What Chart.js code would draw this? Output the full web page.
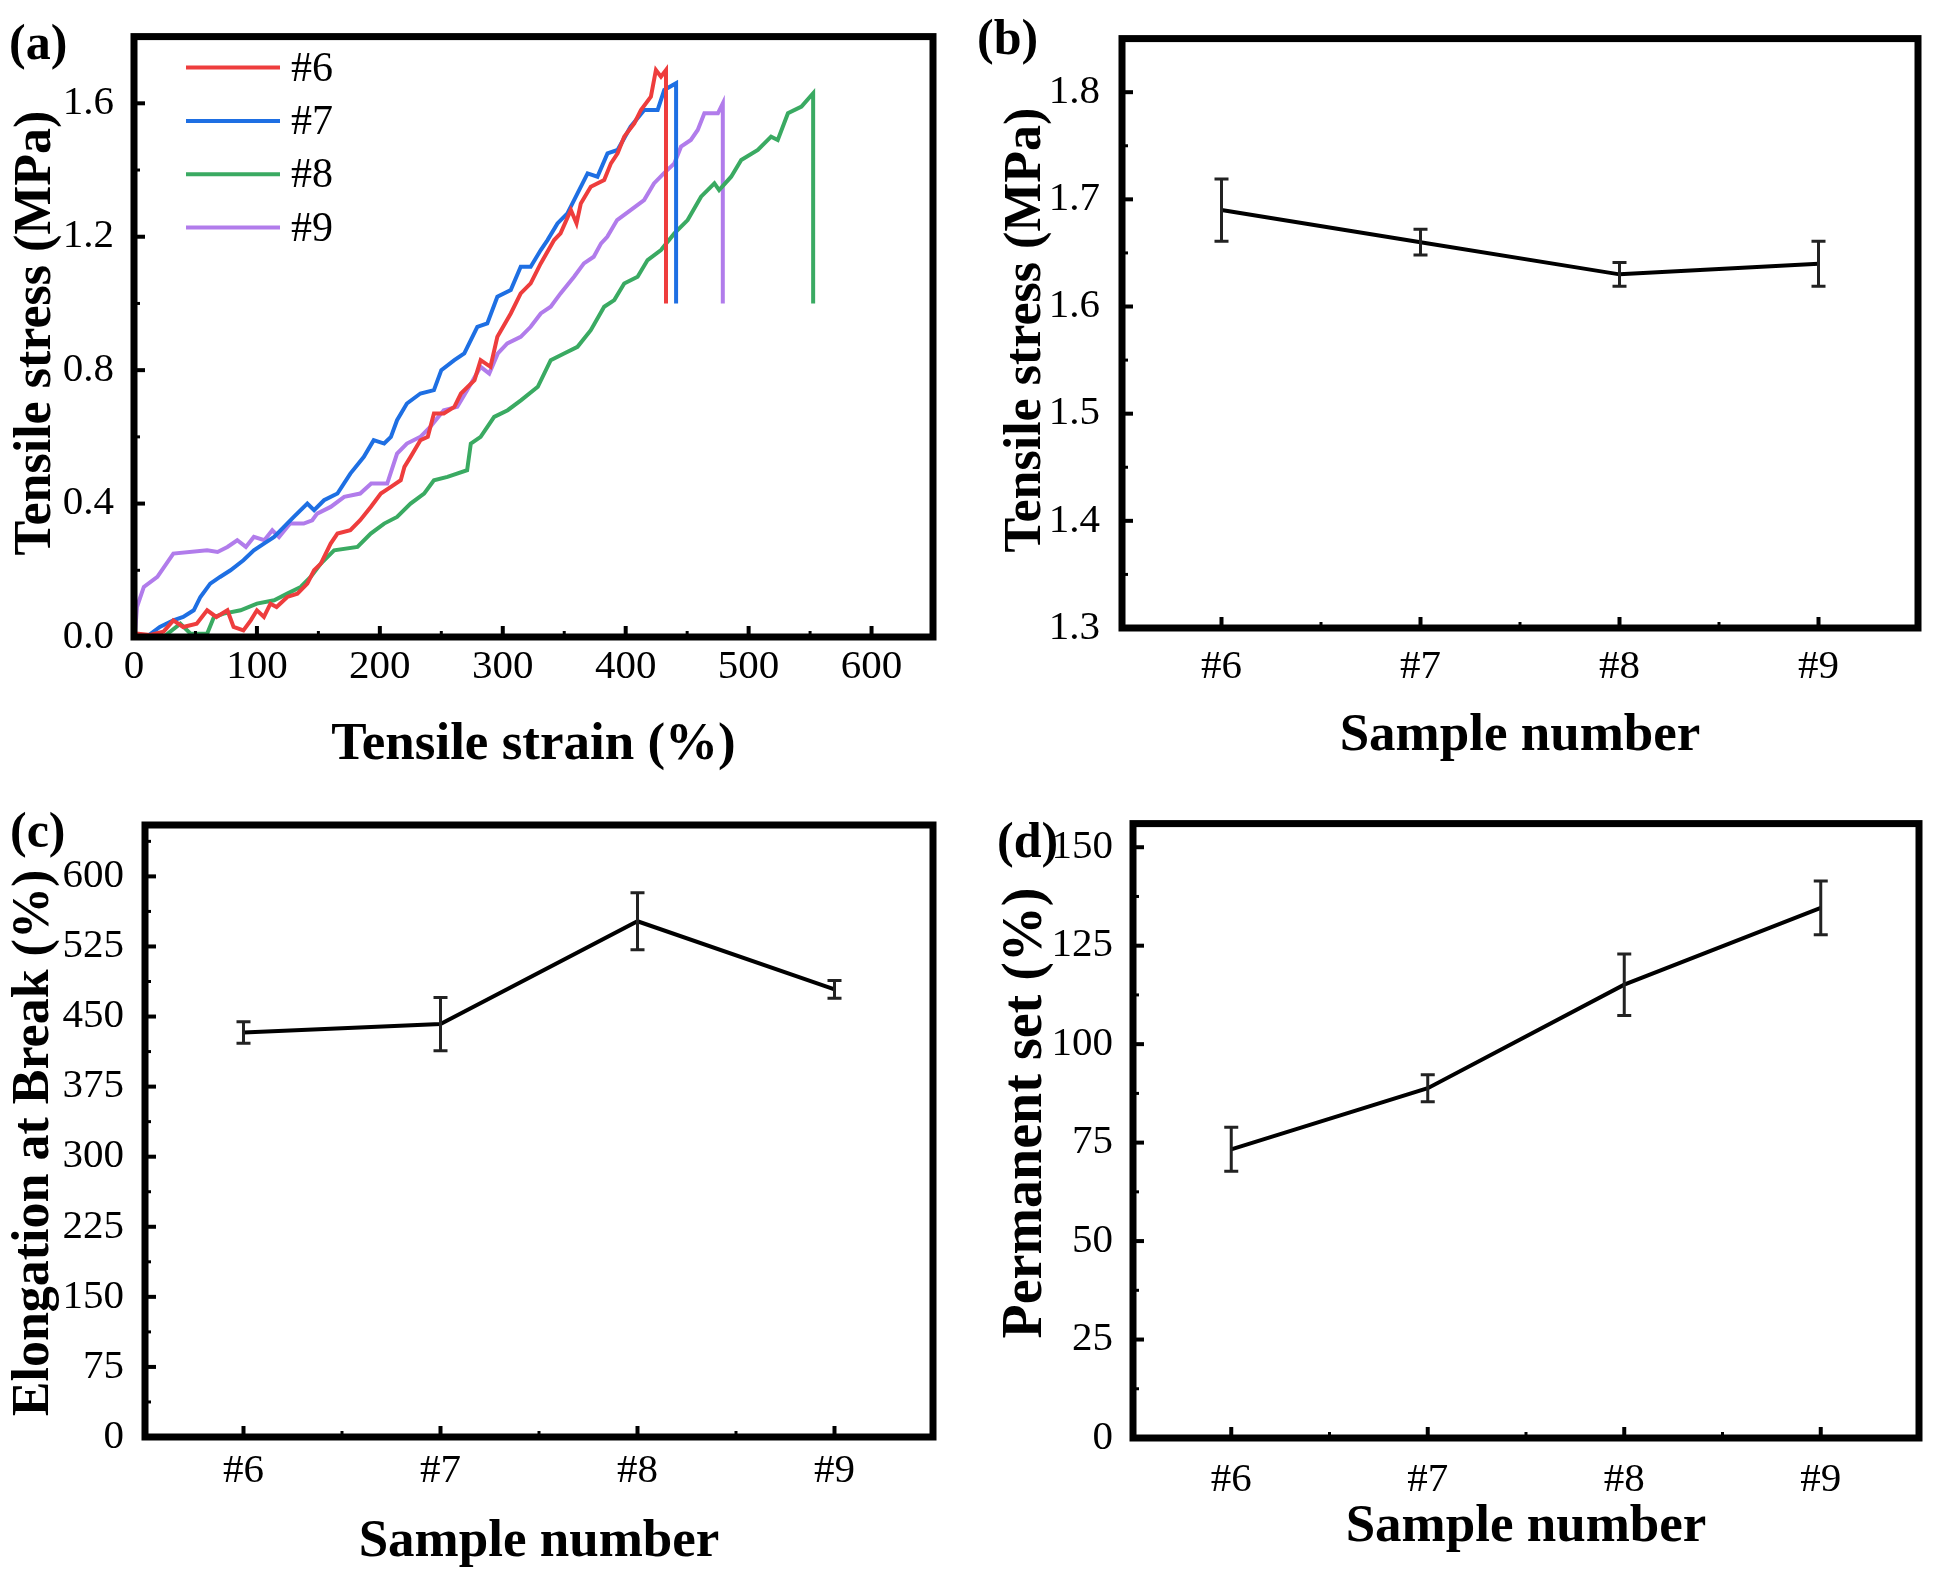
<!DOCTYPE html>
<html>
<head>
<meta charset="utf-8">
<script src="https://cdn.jsdelivr.net/npm/chart.js@4.4.0/dist/chart.umd.min.js"></script>
<style>
  body { margin: 0; background: #fff; }
  #fig { position: relative; width: 1933px; height: 1575px; background: #fff; overflow: hidden; }
  #fig canvas { position: absolute; }
  .tag { position: absolute; font: bold 50px "Liberation Serif", serif; line-height: 50px; color: #000; }
</style>
</head>
<body>
<div id="fig">
  <canvas id="chartA" width="966" height="787" style="left:0;top:0"></canvas>
  <canvas id="chartB" width="967" height="787" style="left:966px;top:0"></canvas>
  <canvas id="chartC" width="966" height="788" style="left:0;top:787px"></canvas>
  <canvas id="chartD" width="967" height="788" style="left:966px;top:787px"></canvas>
  <div class="tag" style="left:9px;top:17px">(a)</div>
  <div class="tag" style="left:977px;top:12px">(b)</div>
  <div class="tag" style="left:10px;top:805px">(c)</div>
  <div class="tag" style="left:997px;top:815px">(d)</div>
</div>
<script>
// (a) stress-strain curves, strain in %, stress in MPa
var strain6 = [0, 2.4, 13, 24, 32, 40, 51, 59.5, 67, 76, 81, 89, 95, 100, 105.7, 111, 116, 124.7, 132.9, 141, 146.5, 152, 160, 165.5, 176, 184, 192.6, 200.8, 209, 217, 220, 225, 233, 239, 244, 252, 260.6, 266, 277, 282, 290, 295.6, 306.5, 314.6, 322.7, 330.9, 341.8, 347, 355.4, 360, 363.5, 371.6, 382.5, 388, 393.4, 398.8, 407, 412.4, 420.5, 424.6, 428.7, 432.8, 432.8];
var stress6 = [0, 0.01, 0.006, 0.016, 0.05, 0.03, 0.04, 0.08, 0.06, 0.08, 0.03, 0.02, 0.05, 0.08, 0.06, 0.10, 0.09, 0.12, 0.13, 0.16, 0.20, 0.22, 0.28, 0.31, 0.32, 0.35, 0.39, 0.43, 0.45, 0.47, 0.51, 0.54, 0.59, 0.60, 0.67, 0.67, 0.69, 0.73, 0.77, 0.83, 0.81, 0.90, 0.97, 1.03, 1.06, 1.12, 1.19, 1.21, 1.28, 1.24, 1.30, 1.35, 1.37, 1.42, 1.45, 1.50, 1.54, 1.58, 1.62, 1.70, 1.68, 1.70, 1.00];

var strain7 = [0, 10, 21, 32, 40, 48.6, 54, 62, 70, 78.5, 89, 97.5, 105.7, 114, 122, 130, 141, 146.5, 154.6, 165.5, 176, 187, 195, 203.5, 209, 214, 222, 233, 244, 250, 260.6, 268.7, 279.3, 287.4, 295.6, 306.5, 314.6, 322.7, 330.9, 336.4, 344.5, 352.6, 360.8, 369, 377, 385.2, 393.4, 404, 415.1, 426, 431.4, 441, 441];
var stress7 = [0, 0, 0.03, 0.05, 0.06, 0.08, 0.12, 0.16, 0.18, 0.20, 0.23, 0.26, 0.28, 0.30, 0.33, 0.36, 0.40, 0.38, 0.41, 0.43, 0.49, 0.54, 0.59, 0.58, 0.60, 0.65, 0.70, 0.73, 0.74, 0.80, 0.83, 0.85, 0.93, 0.94, 1.02, 1.04, 1.11, 1.11, 1.16, 1.19, 1.24, 1.27, 1.33, 1.39, 1.38, 1.45, 1.46, 1.53, 1.58, 1.58, 1.64, 1.66, 1.00];

var strain8 = [0, 2.4, 24, 37.7, 46, 59.5, 65, 73, 86.7, 100, 114, 124.7, 135.6, 143.7, 152, 162.8, 181.8, 192.6, 203.5, 214, 225, 236, 244, 255, 271, 274, 282, 293, 304, 315, 328.5, 339, 349.9, 360.8, 371.6, 382.5, 390.7, 398.8, 409.7, 417.8, 428.7, 439.6, 450.4, 461.3, 472.2, 476, 485.8, 494, 507.5, 518.3, 523.7, 532, 543, 552.5, 552.5];
var stress8 = [0, 0.006, 0, 0.04, 0.01, 0.01, 0.06, 0.07, 0.08, 0.10, 0.11, 0.13, 0.15, 0.18, 0.22, 0.26, 0.27, 0.31, 0.34, 0.36, 0.40, 0.43, 0.47, 0.48, 0.50, 0.58, 0.60, 0.66, 0.68, 0.71, 0.75, 0.83, 0.85, 0.87, 0.92, 0.99, 1.01, 1.06, 1.08, 1.13, 1.16, 1.21, 1.25, 1.32, 1.36, 1.34, 1.38, 1.43, 1.46, 1.50, 1.49, 1.57, 1.59, 1.63, 1.00];

var strain9 = [0, 1, 2.4, 8, 19, 32, 59.5, 68, 76, 84, 91, 97.5, 106, 112.5, 118, 127, 138, 145, 149, 160, 171, 184, 193, 206, 214, 222, 233, 241, 252, 263, 271, 282, 289, 296, 303.7, 314.6, 322.7, 330.9, 339, 347, 358, 366, 374, 380, 385, 393, 404, 415, 423, 431, 439.6, 445, 453, 458.6, 464, 475, 479, 479];
var stress9 = [0, 0.02, 0.09, 0.15, 0.18, 0.25, 0.26, 0.255, 0.27, 0.29, 0.27, 0.30, 0.29, 0.32, 0.30, 0.34, 0.34, 0.35, 0.37, 0.39, 0.42, 0.43, 0.46, 0.46, 0.55, 0.58, 0.60, 0.63, 0.68, 0.69, 0.74, 0.81, 0.79, 0.85, 0.88, 0.90, 0.93, 0.97, 0.99, 1.03, 1.08, 1.12, 1.14, 1.18, 1.20, 1.25, 1.28, 1.31, 1.36, 1.39, 1.42, 1.47, 1.49, 1.52, 1.57, 1.57, 1.60, 1.00];

// (b)(c)(d) summary values with error bars
var samples = ["#6", "#7", "#8", "#9"];
var stressMean = [1.690, 1.660, 1.630, 1.640];
var stressErr = [0.029, 0.012, 0.011, 0.021];
var breakMean = [433, 442, 552, 479];
var breakErr = [11.5, 28.5, 30.5, 9.5];
var setMean = [73.3, 88.8, 115.1, 134.6];
var setErr = [5.6, 3.4, 7.8, 6.8];

Chart.defaults.font.family = '"Liberation Serif", "Times New Roman", serif';
Chart.defaults.color = "#000";
Chart.defaults.animation = false;

function pts(xs, ys) {
  return xs.map(function (x, i) { return { x: x, y: ys[i] }; });
}

// inward major/minor ticks on the bottom and left axes
function drawTicks(c, s, a, horiz) {
  var px = s.ticks.map(function (t, i) { return s.getPixelForTick(i); });
  var minor = [];
  for (var i = 0; i < px.length - 1; i++) minor.push((px[i] + px[i + 1]) / 2);
  if (px.length > 1) {
    var step = px[1] - px[0];
    minor.push(px[0] - step / 2, px[px.length - 1] + step / 2);
  }
  var inside = function (p) {
    return horiz ? (p > a.left + 6 && p < a.right - 6) : (p < a.bottom - 6 && p > a.top + 6);
  };
  var mark = function (p, len, w) {
    c.lineWidth = w;
    c.beginPath();
    if (horiz) { c.moveTo(p, a.bottom); c.lineTo(p, a.bottom - len); }
    else { c.moveTo(a.left, p); c.lineTo(a.left + len, p); }
    c.stroke();
  };
  px.filter(inside).forEach(function (p) { mark(p, 11, 4); });
  minor.filter(inside).forEach(function (p) { mark(p, 6, 3); });
}

var frame = {
  id: "frame",
  afterDraw: function (chart) {
    var a = chart.chartArea, c = chart.ctx;
    c.save();
    c.strokeStyle = "#000";
    drawTicks(c, chart.scales.x, a, true);
    drawTicks(c, chart.scales.y, a, false);
    c.lineWidth = 7;
    c.strokeRect(a.left, a.top, a.right - a.left, a.bottom - a.top);
    c.restore();
  }
};

// rotated y-axis title, placed where the original sits (not always centred on the axis)
var yTitle = {
  id: "yTitle",
  afterDraw: function (chart, args, o) {
    var c = chart.ctx;
    c.save();
    c.font = "bold " + o.size + 'px "Liberation Serif"';
    c.fillStyle = "#000";
    c.textAlign = "center";
    c.textBaseline = "middle";
    c.translate(o.x, o.y);
    c.rotate(-Math.PI / 2);
    c.fillText(o.text, 0, 0);
    c.restore();
  }
};

var errorBars = {
  id: "errorBars",
  afterDatasetsDraw: function (chart, args, opts) {
    var meta = chart.getDatasetMeta(0), y = chart.scales.y, c = chart.ctx;
    var vals = chart.data.datasets[0].data;
    c.save();
    c.strokeStyle = "#222";
    c.lineWidth = 3;
    meta.data.forEach(function (pt, i) {
      var hi = y.getPixelForValue(vals[i] + opts.err[i]);
      var lo = y.getPixelForValue(vals[i] - opts.err[i]);
      c.beginPath();
      c.moveTo(pt.x, hi); c.lineTo(pt.x, lo);
      c.moveTo(pt.x - 7, hi); c.lineTo(pt.x + 7, hi);
      c.moveTo(pt.x - 7, lo); c.lineTo(pt.x + 7, lo);
      c.stroke();
    });
    c.restore();
  }
};

var innerLegend = {
  id: "innerLegend",
  afterDraw: function (chart) {
    var a = chart.chartArea, c = chart.ctx;
    c.save();
    c.font = '42px "Liberation Serif"';
    c.textBaseline = "middle";
    c.fillStyle = "#000";
    chart.data.datasets.forEach(function (ds, i) {
      var y = a.top + 31 + i * 53.3;
      c.strokeStyle = ds.borderColor;
      c.lineWidth = 4;
      c.beginPath();
      c.moveTo(a.left + 52, y);
      c.lineTo(a.left + 146, y);
      c.stroke();
      c.fillText(ds.label, a.left + 157, y + 2);
    });
    c.restore();
  }
};

function baseOptions(p) {
  return {
    responsive: false,
    devicePixelRatio: 1,
    layout: { padding: p.pad, autoPadding: false },
    plugins: {
      legend: { display: false },
      tooltip: { enabled: false },
      errorBars: { err: p.err },
      yTitle: p.yTitle
    },
    scales: {
      x: Object.assign({
        grid: { display: false },
        border: { display: false },
        ticks: { font: { size: 41 }, padding: p.xTickPad, maxRotation: 0, autoSkip: false },
        title: { display: true, text: p.xTitle, font: { size: 53, weight: "bold" }, padding: { top: 0, bottom: p.xTitlePad } },
        afterFit: function (s) { s.height = p.xHeight; }
      }, p.x),
      y: Object.assign({
        grid: { display: false },
        border: { display: false },
        ticks: Object.assign({ font: { size: 41 }, padding: p.yTickPad, includeBounds: false }, p.yTicks),
        afterFit: function (s) { s.width = p.yWidth; }
      }, p.y)
    }
  };
}

var optA = baseOptions({
  pad: { left: 0, top: 30, right: 33, bottom: 0 },
  xHeight: 150, yWidth: 134,
  xTickPad: -2, yTickPad: 12,
  xTitle: "Tensile strain (%)", xTitlePad: 10,
  yTitle: { text: "Tensile stress (MPa)", size: 52, x: 37, y: 333 },
  x: { type: "linear", min: 0, max: 650 },
  y: { min: 0, max: 1.8 },
  yTicks: { stepSize: 0.4, callback: function (v) { return v.toFixed(1); } }
});
optA.scales.x.ticks.stepSize = 100;
optA.scales.x.ticks.includeBounds = false;

new Chart(document.getElementById("chartA"), {
  type: "line",
  data: {
    datasets: [
      { label: "#6", data: pts(strain6, stress6), borderColor: "#ee3d3d" },
      { label: "#7", data: pts(strain7, stress7), borderColor: "#1e6fe3" },
      { label: "#8", data: pts(strain8, stress8), borderColor: "#3aaa62" },
      { label: "#9", data: pts(strain9, stress9), borderColor: "#b17ceb" }
    ].map(function (d) {
      return Object.assign(d, { borderWidth: 4, pointRadius: 0, tension: 0, fill: false });
    })
  },
  options: optA,
  plugins: [frame, innerLegend, yTitle]
});

function summaryChart(id, values, opts) {
  return new Chart(document.getElementById(id), {
    type: "line",
    data: {
      labels: samples,
      datasets: [{ data: values, borderColor: "#000", borderWidth: 4, pointRadius: 0, tension: 0, fill: false }]
    },
    options: opts,
    plugins: [frame, errorBars, yTitle]
  });
}

summaryChart("chartB", stressMean, baseOptions({
  pad: { left: 0, top: 22, right: 15, bottom: 0 },
  xHeight: 159, yWidth: 156,
  xTickPad: 7, yTickPad: 14,
  xTitle: "Sample number", xTitlePad: 19,
  yTitle: { text: "Tensile stress (MPa)", size: 52, x: 61, y: 330 },
  err: stressErr,
  x: { type: "category", offset: true },
  y: { min: 1.3, max: 1.85 },
  yTicks: { stepSize: 0.1, callback: function (v) { return v.toFixed(1); } }
}));

summaryChart("chartC", breakMean, baseOptions({
  pad: { left: 0, top: 38, right: 33, bottom: 0 },
  xHeight: 138, yWidth: 145,
  xTickPad: 2, yTickPad: 13,
  xTitle: "Sample number", xTitlePad: 1,
  yTitle: { text: "Elongation at Break (%)", size: 52, x: 35, y: 356 },
  err: breakErr,
  x: { type: "category", offset: true },
  y: { min: 0, max: 655 },
  yTicks: { stepSize: 75 }
}));

summaryChart("chartD", setMean, baseOptions({
  pad: { left: 0, top: 28, right: 14, bottom: 0 },
  xHeight: 137, yWidth: 167,
  xTickPad: 10, yTickPad: 12,
  xTitle: "Sample number", xTitlePad: 16,
  yTitle: { text: "Permanent set (%)", size: 56, x: 61, y: 326 },
  err: setErr,
  x: { type: "category", offset: true },
  y: { min: 0, max: 156 },
  yTicks: { stepSize: 25 }
}));
</script>
</body>
</html>
